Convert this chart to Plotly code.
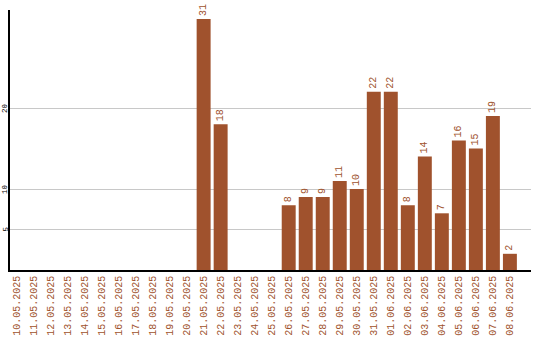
import plotly.graph_objects as go

dates = ["10.05.2025","11.05.2025","12.05.2025","13.05.2025","14.05.2025","15.05.2025",
         "16.05.2025","17.05.2025","18.05.2025","19.05.2025","20.05.2025","21.05.2025",
         "22.05.2025","23.05.2025","24.05.2025","25.05.2025","26.05.2025","27.05.2025",
         "28.05.2025","29.05.2025","30.05.2025","31.05.2025","01.06.2025","02.06.2025",
         "03.06.2025","04.06.2025","05.06.2025","06.06.2025","07.06.2025","08.06.2025"]
values = [0,0,0,0,0,0,0,0,0,0,0,31,18,0,0,0,8,9,9,11,10,22,22,8,14,7,16,15,19,2]
y_ticks = [5, 10, 20]

color = "#a0522d"
font = "Liberation Mono, Courier New, monospace"

fig = go.Figure(go.Bar(
    x=dates, y=values,
    marker=dict(color=color, line=dict(width=0)),
    text=[str(v) if v else "" for v in values],
    textposition="outside", textangle=-90,
    textfont=dict(family=font, size=10, color=color),
    cliponaxis=False,
))

fig.update_layout(
    width=540, height=340,
    margin=dict(l=10, r=9, t=10, b=70, autoexpand=False),
    plot_bgcolor="white", paper_bgcolor="white",
    bargap=0.18, showlegend=False,
    xaxis=dict(type="category", range=[-0.38, 30.24], showgrid=False,
               showline=True, linecolor="black", linewidth=1.5,
               ticks="", tickangle=-90, automargin=False,
               tickfont=dict(family=font, size=10, color=color)),
    yaxis=dict(range=[0, 32.1], tickvals=y_ticks, showgrid=True, gridcolor="#c8c8c8",
               gridwidth=1, showline=True, linecolor="black", linewidth=1.5,
               ticks="", showticklabels=False, zeroline=False, automargin=False),
    annotations=[dict(x=0, xref="paper", y=v, yref="y", text=str(v), showarrow=False,
                      textangle=-90, xanchor="center", yanchor="middle", xshift=-5,
                      font=dict(family=font, size=7.5, color="black"))
                 for v in y_ticks],
)

fig.write_html("out.html")
